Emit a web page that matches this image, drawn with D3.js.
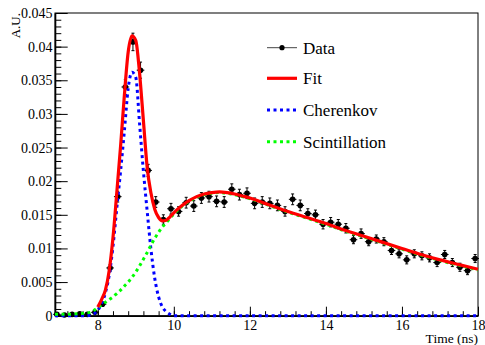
<!DOCTYPE html>
<html>
<head>
<meta charset="utf-8">
<script src="https://cdn.jsdelivr.net/npm/d3@7"></script>
<style>
  body { margin: 0; background: #fff; }
  text { font-family: "Liberation Serif", "Times New Roman", serif; fill: #000; }
</style>
</head>
<body>
<div id="my_dataviz"></div>
<script>
// data points (bin centres, A.U. values, y errors)
var dataTime = [6.925, 7.125, 7.325, 7.525, 7.725, 7.925, 8.125, 8.325, 8.525, 8.725,
  8.925, 9.125, 9.325, 9.525, 9.725, 9.925, 10.125, 10.325, 10.525, 10.725,
  10.925, 11.125, 11.325, 11.525, 11.725, 11.925, 12.125, 12.325, 12.525, 12.725,
  12.925, 13.125, 13.325, 13.525, 13.725, 13.925, 14.125, 14.325, 14.525, 14.725,
  14.925, 15.125, 15.325, 15.525, 15.725, 15.925, 16.125, 16.325, 16.525, 16.725,
  16.925, 17.125, 17.325, 17.525, 17.725, 17.925];
var dataValue = [0.0002, 0.0001, 0.0002, 0.0003, 0.0002, 0.0005, 0.0017, 0.0071, 0.0177, 0.0340,
  0.0407, 0.0365, 0.0216, 0.0169, 0.0143, 0.0159, 0.0155, 0.0168, 0.0163, 0.0175,
  0.0177, 0.0170, 0.0169, 0.0188, 0.0180, 0.0182, 0.0167, 0.0169, 0.0167, 0.0164,
  0.0155, 0.0173, 0.0164, 0.0152, 0.0150, 0.0136, 0.0139, 0.0136, 0.0130, 0.0113,
  0.0122, 0.0110, 0.0114, 0.0110, 0.0097, 0.0092, 0.0083, 0.0092, 0.0089, 0.0086,
  0.0079, 0.0091, 0.0079, 0.0072, 0.0067, 0.0085];
var dataError = [0.0001, 0.0001, 0.0001, 0.0001, 0.0001, 0.0001, 0.0003, 0.0005, 0.0008, 0.0011,
  0.0013, 0.0012, 0.0009, 0.0008, 0.0007, 0.0008, 0.0007, 0.0008, 0.0008, 0.0008,
  0.0008, 0.0008, 0.0008, 0.0008, 0.0008, 0.0008, 0.0008, 0.0008, 0.0008, 0.0008,
  0.0007, 0.0008, 0.0008, 0.0007, 0.0007, 0.0007, 0.0007, 0.0007, 0.0007, 0.0006,
  0.0007, 0.0006, 0.0006, 0.0006, 0.0006, 0.0006, 0.0006, 0.0006, 0.0006, 0.0006,
  0.0006, 0.0006, 0.0006, 0.0006, 0.0006, 0.0006];
var binHalfWidth = 0.1;

// fit curve
var fitTime = [8.0, 8.1, 8.2, 8.3, 8.4, 8.5, 8.6, 8.7, 8.8, 8.9, 9.0, 9.1, 9.2, 9.3, 9.4, 9.5, 9.6, 9.7, 9.8, 9.9, 10.0,
  10.2, 10.4, 10.6, 10.8, 11.0, 11.2, 11.4, 11.6, 11.8, 12.0,
  12.5, 13.0, 13.5, 14.0, 14.5, 15.0, 15.5, 16.0, 16.5, 17.0, 17.5, 18.0];
var fitValue = [0.0013, 0.0024, 0.0038, 0.0067, 0.0116, 0.0183, 0.0252, 0.0328, 0.0392, 0.0416, 0.0409,
  0.0360, 0.0290, 0.0220, 0.0182, 0.0158, 0.0146, 0.0141, 0.0142, 0.0147, 0.0153,
  0.0163, 0.0171, 0.0177, 0.0181, 0.0183, 0.0184, 0.0183, 0.0181, 0.0178, 0.0175,
  0.0165, 0.0155, 0.0146, 0.0137, 0.0127, 0.0118, 0.0109, 0.0100, 0.0091, 0.0083, 0.0076, 0.0069];

// components
var compTime = [6.875, 7.2, 7.5, 7.7, 7.8, 7.9,
  8.0, 8.1, 8.2, 8.3, 8.4, 8.5, 8.6, 8.7, 8.8, 8.9, 9.0, 9.1, 9.2, 9.3, 9.4, 9.5, 9.6, 9.7, 9.8, 9.9, 10.0,
  10.2, 10.4, 10.6, 10.8, 11.0, 11.2, 11.4, 11.6, 11.8, 12.0,
  12.5, 13.0, 13.5, 14.0, 14.5, 15.0, 15.5, 16.0, 16.5, 17.0, 17.5, 18.0];
var cherenkov = [0, 0, 0, 0, 0.0001, 0.0003,
  0.0008, 0.0018, 0.0034, 0.0060, 0.0103, 0.0160, 0.0215, 0.0275, 0.0338, 0.0362, 0.0354,
  0.0285, 0.0215, 0.0155, 0.0098, 0.0055, 0.0028, 0.0013, 0.0006, 0.0002, 0,
  0, 0, 0, 0, 0, 0, 0, 0, 0, 0,
  0, 0, 0, 0, 0, 0, 0, 0, 0, 0, 0, 0];
var scintillation = [0.0002, 0.0002, 0.0003, 0.0004, 0.0005, 0.0008,
  0.0012, 0.0016, 0.0020, 0.0024, 0.0028, 0.0033, 0.0038, 0.0044, 0.0050, 0.0057, 0.0065,
  0.0074, 0.0084, 0.0094, 0.0105, 0.0115, 0.0124, 0.0132, 0.0138, 0.0145, 0.0151,
  0.0162, 0.0170, 0.0176, 0.0180, 0.0182, 0.0183, 0.0182, 0.0180, 0.0177, 0.0174,
  0.0164, 0.0154, 0.0145, 0.0136, 0.0126, 0.0117, 0.0108, 0.0099, 0.0090, 0.0082, 0.0075, 0.0068];

var xTicks = [8, 10, 12, 14, 16, 18];
var yTicks = [0, 0.005, 0.01, 0.015, 0.02, 0.025, 0.03, 0.035, 0.04, 0.045];
var legendItems = ["Data", "Fit", "Cherenkov", "Scintillation"];

var W = 485, H = 345;
var plotLeft = 55, plotRight = 478, plotTop = 13, plotBottom = 315.7;

var svg = d3.select("#my_dataviz")
  .append("svg")
    .attr("width", W)
    .attr("height", H);

var x = d3.scaleLinear().domain([6.875, 18]).range([plotLeft, plotRight]);
var y = d3.scaleLinear().domain([0, 0.045]).range([plotBottom, plotTop]);

// frame
svg.append("rect")
  .attr("x", plotLeft).attr("y", plotTop)
  .attr("width", plotRight - plotLeft).attr("height", plotBottom - plotTop)
  .attr("fill", "none").attr("stroke", "#000").attr("stroke-width", 1);

// minor ticks
var yMinor = d3.range(0, 0.0451, 0.001);
svg.append("g")
  .attr("transform", "translate(" + plotLeft + ",0)")
  .call(d3.axisLeft(y).tickValues(yMinor).tickSize(-6.3).tickSizeOuter(0).tickFormat(""))
  .call(function(g) { g.select(".domain").remove(); });
var xMinor = d3.range(7.2, 18.01, 0.4);
svg.append("g")
  .attr("transform", "translate(0," + plotBottom + ")")
  .call(d3.axisBottom(x).tickValues(xMinor).tickSize(-4.5).tickSizeOuter(0).tickFormat(""))
  .call(function(g) { g.select(".domain").remove(); });

// major ticks + labels
var yAxis = svg.append("g")
  .attr("transform", "translate(" + plotLeft + ",0)")
  .call(d3.axisLeft(y).tickValues(yTicks).tickSize(-12.7).tickSizeOuter(0).tickPadding(2.5)
    .tickFormat(function(d) { return d === 0 ? "0" : String(+d.toFixed(3)); }))
  .attr("font-family", "Liberation Serif")
  .attr("font-size", 14);
yAxis.select(".domain").attr("stroke-width", 1.6);

var xAxis = svg.append("g")
  .attr("transform", "translate(0," + plotBottom + ")")
  .call(d3.axisBottom(x).tickValues(xTicks).tickSize(-9).tickSizeOuter(0).tickPadding(4.5))
  .attr("font-family", "Liberation Serif")
  .attr("font-size", 14);
xAxis.select(".domain").attr("stroke-width", 1.6);

// axis titles
svg.append("text")
  .attr("x", plotRight).attr("y", 343)
  .attr("text-anchor", "end")
  .style("font-size", "13.5px")
  .text("Time (ns)");
svg.append("text")
  .attr("transform", "translate(20," + plotTop + ") rotate(-90)")
  .attr("text-anchor", "end")
  .style("font-size", "13px")
  .text("A.U.");

// data points with errors
var points = dataTime.map(function(t, i) { return {t: t, v: dataValue[i], e: dataError[i]}; });
var pg = svg.append("g").attr("stroke", "#000").attr("stroke-width", 1);
pg.selectAll("hbar").data(points).enter().append("line")
  .attr("x1", function(d) { return x(d.t - binHalfWidth); })
  .attr("x2", function(d) { return x(d.t + binHalfWidth); })
  .attr("y1", function(d) { return y(d.v); })
  .attr("y2", function(d) { return y(d.v); });
pg.selectAll("vbar").data(points).enter().append("line")
  .attr("x1", function(d) { return x(d.t); })
  .attr("x2", function(d) { return x(d.t); })
  .attr("y1", function(d) { return y(d.v - d.e); })
  .attr("y2", function(d) { return y(d.v + d.e); });
pg.selectAll("capTop").data(points.filter(function(d) { return d.e > 0.0002; })).enter().append("line")
  .attr("x1", function(d) { return x(d.t) - 1.5; })
  .attr("x2", function(d) { return x(d.t) + 1.5; })
  .attr("y1", function(d) { return y(d.v + d.e); })
  .attr("y2", function(d) { return y(d.v + d.e); });
pg.selectAll("capBot").data(points.filter(function(d) { return d.e > 0.0002; })).enter().append("line")
  .attr("x1", function(d) { return x(d.t) - 1.5; })
  .attr("x2", function(d) { return x(d.t) + 1.5; })
  .attr("y1", function(d) { return y(d.v - d.e); })
  .attr("y2", function(d) { return y(d.v - d.e); });
svg.append("g").selectAll("dot").data(points).enter().append("circle")
  .attr("cx", function(d) { return x(d.t); })
  .attr("cy", function(d) { return y(d.v); })
  .attr("r", 2.8)
  .attr("fill", "#000");

// curves
var line = d3.line()
  .x(function(d) { return x(d[0]); })
  .y(function(d) { return y(d[1]); })
  .curve(d3.curveMonotoneX);

svg.append("path")
  .attr("d", line(compTime.map(function(t, i) { return [t, cherenkov[i]]; })))
  .attr("fill", "none").attr("stroke", "#0000ff")
  .attr("stroke-width", 3).attr("stroke-dasharray", "3,3.5");
svg.append("path")
  .attr("d", line(compTime.map(function(t, i) { return [t, scintillation[i]]; })))
  .attr("fill", "none").attr("stroke", "#00ff00")
  .attr("stroke-width", 3).attr("stroke-dasharray", "3,3.5");
svg.append("path")
  .attr("d", line(fitTime.map(function(t, i) { return [t, fitValue[i]]; })))
  .attr("fill", "none").attr("stroke", "#ff0000")
  .attr("stroke-width", 3.2);

// legend
var legendY = [47.7, 78.3, 110, 141.7];
var lg = svg.append("g");
lg.append("line").attr("x1", 267).attr("x2", 297).attr("y1", legendY[0]).attr("y2", legendY[0])
  .attr("stroke", "#444").attr("stroke-width", 1);
lg.append("circle").attr("cx", 282).attr("cy", legendY[0]).attr("r", 2.6).attr("fill", "#000");
lg.append("line").attr("x1", 267).attr("x2", 297).attr("y1", legendY[1]).attr("y2", legendY[1])
  .attr("stroke", "#ff0000").attr("stroke-width", 3.2);
lg.append("line").attr("x1", 267).attr("x2", 297).attr("y1", legendY[2]).attr("y2", legendY[2])
  .attr("stroke", "#0000ff").attr("stroke-width", 3).attr("stroke-dasharray", "3,3.5");
lg.append("line").attr("x1", 267).attr("x2", 297).attr("y1", legendY[3]).attr("y2", legendY[3])
  .attr("stroke", "#00ff00").attr("stroke-width", 3).attr("stroke-dasharray", "3,3.5");
lg.selectAll("lbl").data(legendItems).enter().append("text")
  .attr("x", 303)
  .attr("y", function(d, i) { return legendY[i]; })
  .attr("dy", "0.35em")
  .style("font-size", "17px")
  .text(function(d) { return d; });
</script>
</body>
</html>
